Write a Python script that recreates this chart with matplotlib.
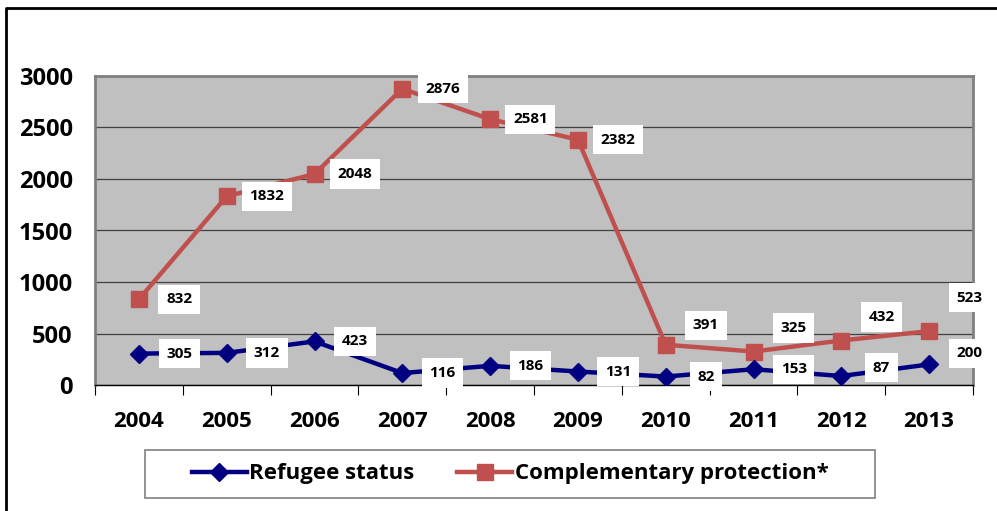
import matplotlib.pyplot as plt
from matplotlib.lines import Line2D
from matplotlib.patches import Rectangle

years = ['2004', '2005', '2006', '2007', '2008', '2009', '2010', '2011', '2012', '2013']
refugee = [305, 312, 423, 116, 186, 131, 82, 153, 87, 200]
complementary = [832, 1832, 2048, 2876, 2581, 2382, 391, 325, 432, 523]

# label offsets in points (dx, dy)
ref_off = [(29, 0), (29, 0), (29, 0), (29, 0), (29, 0), (29, 0), (29, 0), (29, 0), (29, 6), (29, 8)]
comp_off = [(29, 0), (29, 0), (29, 0), (29, 0), (29, 0), (29, 0), (29, 14), (29, 17), (29, 17), (29, 24)]

plt.rcParams['font.family'] = ['Open Sans', 'DejaVu Sans']
plt.rcParams['font.weight'] = 'bold'

fig = plt.figure(figsize=(9.97, 5.11), dpi=100)
ax = fig.add_axes([95 / 997, 1 - 385 / 511, 878 / 997, 309 / 511])
ax.set_facecolor('#C0C0C0')

x = list(range(len(years)))
ax.plot(x, complementary, color='#C0504D', lw=3.2, marker='s', markersize=11, zorder=3)
ax.plot(x, refugee, color='#000080', lw=3.2, marker='D', markersize=9, zorder=3)

box = dict(boxstyle='square,pad=0.5', fc='white', ec='none')
for i in x:
    ax.annotate(str(refugee[i]), (i, refugee[i]), xytext=ref_off[i], textcoords='offset points',
                ha='center', va='center', fontsize=11, fontweight='bold', bbox=box, zorder=4)
    ax.annotate(str(complementary[i]), (i, complementary[i]), xytext=comp_off[i],
                textcoords='offset points', ha='center', va='center', fontsize=11,
                fontweight='bold', bbox=box, zorder=4)

ax.set_xlim(-0.5, len(years) - 0.5)
ax.set_ylim(0, 3000)
ax.set_yticks(range(0, 3001, 500))
ax.yaxis.grid(True, color='#404040', lw=0.9)
ax.set_axisbelow(True)

ax.set_xticks([i - 0.5 for i in range(len(years) + 1)])
ax.set_xticklabels([])
ax.set_xticks(x, minor=True)
ax.set_xticklabels(years, minor=True, fontsize=16, fontweight='bold')
ax.tick_params(axis='x', which='major', length=7, color='black', direction='out')
ax.tick_params(axis='x', which='minor', length=0, pad=19)
ax.tick_params(axis='y', length=0, pad=16, labelsize=17)
for lab in ax.get_yticklabels():
    lab.set_fontweight('bold')

for s in ['left', 'top', 'right']:
    ax.spines[s].set_color('#808080')
    ax.spines[s].set_linewidth(2)
ax.spines['bottom'].set_color('black')
ax.spines['bottom'].set_linewidth(1)

# legend in a box at the bottom
fig.patches.append(Rectangle((145 / 997, 1 - 498 / 511), 730 / 997, 48 / 511,
                             transform=fig.transFigure, fill=False, ec='#808080', lw=1.2))
handles = [Line2D([], [], color='#000080', lw=3.2, marker='D', markersize=9),
           Line2D([], [], color='#C0504D', lw=3.2, marker='s', markersize=11)]
fig.legend(handles, ['Refugee status', 'Complementary protection*'], loc='center',
           bbox_to_anchor=(510 / 997, 1 - 474 / 511), ncol=2, frameon=False,
           prop={'size': 16, 'weight': 'bold'}, handlelength=2.5, handletextpad=0.1,
           columnspacing=1.9)

# outer border (top and left)
fig.add_artist(Line2D([6 / 997, 6 / 997, 1.0], [0.0, 1 - 8 / 511, 1 - 8 / 511],
                      transform=fig.transFigure, color='black', lw=2))

plt.savefig('out.png', dpi=100)
